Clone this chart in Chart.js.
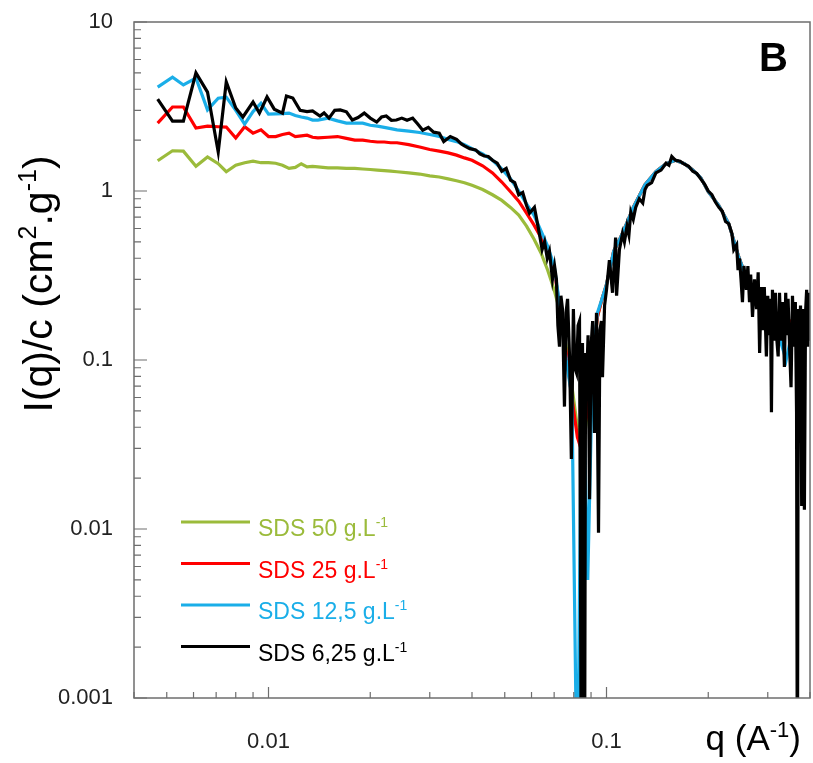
<!DOCTYPE html>
<html lang="en">

<head>
  <meta charset="UTF-8">
  <script src="https://cdn.jsdelivr.net/npm/chart.js"></script>
  <title>SDS scattering curves</title>
  <style>
    body { margin: 0; background: #fff; }
    #grafico { display: block; }
  </style>
</head>

<body>
  <canvas id="grafico" width="813" height="763"></canvas>

<script>
  // q values shared by the 50, 25 and 12,5 g/L curves
  const qA = [0.0047, 0.0052, 0.0056, 0.0061, 0.0066, 0.0071, 0.0075, 0.0080, 0.0085, 0.0090,
    0.0095, 0.0100, 0.0105, 0.0110, 0.0115, 0.0120, 0.0125, 0.0130, 0.0135, 0.014,
    0.015, 0.016, 0.017, 0.018, 0.019, 0.020, 0.021, 0.022, 0.023, 0.024,
    0.026, 0.028, 0.030, 0.032, 0.034, 0.036, 0.038, 0.040, 0.043, 0.046,
    0.049, 0.052, 0.055, 0.058, 0.061, 0.064, 0.067, 0.070, 0.073, 0.076,
    0.079, 0.082, 0.084, 0.086, 0.088, 0.091, 0.094, 0.097, 0.100, 0.105,
    0.110, 0.115, 0.120, 0.130, 0.140, 0.150, 0.160, 0.170, 0.180, 0.190,
    0.200, 0.215, 0.230, 0.245, 0.260, 0.280, 0.300, 0.320, 0.340, 0.360,
    0.380, 0.400];

  const sds50 = [1.51, 1.73, 1.72, 1.40, 1.59, 1.45, 1.30, 1.42, 1.47, 1.50,
    1.47, 1.47, 1.46, 1.42, 1.36, 1.38, 1.45, 1.39, 1.40, 1.39,
    1.37, 1.37, 1.36, 1.36, 1.35, 1.34, 1.33, 1.32, 1.31, 1.30,
    1.28, 1.26, 1.23, 1.21, 1.18, 1.15, 1.12, 1.08, 1.02, 0.95,
    0.88, 0.80, 0.72, 0.62, 0.52, 0.43, 0.34, 0.26, 0.19, 0.12,
    0.07, 0.04, 0.03, 0.035, 0.05, 0.10, 0.18, 0.23, 0.28, 0.44,
    0.53, 0.65, 0.80, 1.09, 1.30, 1.45, 1.52, 1.45, 1.33, 1.20,
    0.99, 0.82, 0.64, 0.42, 0.30, 0.25, 0.20, 0.18, 0.17, 0.17,
    0.17, 0.17];

  const sds25 = [2.52, 3.14, 3.14, 2.36, 2.42, 2.40, 2.39, 2.06, 2.40, 2.20,
    2.30, 2.10, 2.10, 2.16, 2.20, 2.10, 2.12, 2.14, 2.08, 2.06,
    2.08, 2.10, 2.05, 2.00, 2.00, 1.97, 1.95, 1.95, 1.93, 1.93,
    1.88, 1.82, 1.76, 1.72, 1.68, 1.63, 1.57, 1.52, 1.41, 1.28,
    1.13, 0.99, 0.87, 0.74, 0.63, 0.53, 0.44, 0.34, 0.20, 0.11,
    0.06, 0.035, 0.03, 0.04, 0.05, 0.10, 0.18, 0.23, 0.28, 0.44,
    0.53, 0.65, 0.80, 1.09, 1.30, 1.45, 1.52, 1.45, 1.33, 1.20,
    0.99, 0.82, 0.64, 0.42, 0.30, 0.25, 0.20, 0.18, 0.17, 0.17,
    0.17, 0.17];

  const sds125 = [4.12, 4.72, 4.24, 4.66, 3.02, 3.54, 3.59, 3.00, 2.49, 2.95,
    3.30, 2.85, 2.86, 2.87, 2.89, 2.80, 2.74, 2.70, 2.63, 2.63,
    2.70, 2.60, 2.52, 2.52, 2.52, 2.45, 2.42, 2.38, 2.34, 2.30,
    2.26, 2.22, 2.16, 2.10, 2.02, 1.96, 1.88, 1.78, 1.66, 1.52,
    1.35, 1.18, 1.00, 0.84, 0.72, 0.58, 0.47, 0.36, 0.20, 0.10,
    0.06, 0.0002, 0.03, 0.04, 0.005, 0.10, 0.19, 0.23, 0.28, 0.44,
    0.53, 0.65, 0.80, 1.09, 1.30, 1.45, 1.52, 1.45, 1.33, 1.20,
    0.99, 0.82, 0.64, 0.42, 0.30, 0.22, 0.19, 0.15, 0.10, 0.17,
    0.15, 0.18];

  // the 6,25 g/L curve is noisier, it has its own q values
  const qB = [0.0047, 0.0052, 0.0056, 0.0061, 0.0066, 0.0071, 0.0075, 0.0080, 0.0084, 0.0090,
    0.0094, 0.0099, 0.0104, 0.0110, 0.0113, 0.0118, 0.0124, 0.0130, 0.0135, 0.0142,
    0.0146, 0.0151, 0.0157, 0.0163, 0.0170, 0.0177, 0.0184, 0.0192, 0.0200, 0.0209,
    0.0216, 0.0223, 0.0231, 0.0239, 0.0248, 0.0257, 0.0267, 0.0276, 0.0286, 0.0297,
    0.0308, 0.0320, 0.0330, 0.0345, 0.0360, 0.0372, 0.0380, 0.0394, 0.0410, 0.0422,
    0.0435, 0.0447, 0.0460, 0.0475, 0.0490, 0.0505, 0.0520, 0.0535, 0.0550, 0.0565,
    0.0580, 0.0592, 0.0612, 0.0634, 0.0645, 0.0656, 0.0668, 0.0678, 0.0692, 0.0702,
    0.0711, 0.0718, 0.0726, 0.0733, 0.0741, 0.0751, 0.0759, 0.0767, 0.0778, 0.0787,
    0.0798, 0.0806, 0.0815, 0.0824, 0.0832, 0.0843, 0.0849, 0.0855, 0.0861, 0.0867,
    0.0873, 0.0882, 0.0891, 0.0900, 0.0910, 0.0921, 0.0934, 0.0947, 0.0956, 0.0966,
    0.0973, 0.0987, 0.1000, 0.1020, 0.1042, 0.1064, 0.1071, 0.1092, 0.1115, 0.1130,
    0.1150, 0.1165, 0.1180, 0.1200, 0.1220, 0.1250, 0.1280, 0.1300, 0.1320, 0.1360,
    0.1400, 0.1450, 0.1500, 0.1530, 0.1560, 0.1600, 0.1650, 0.1700, 0.1750, 0.1800,
    0.1850, 0.1900, 0.1950, 0.2000, 0.2050, 0.2100, 0.2150, 0.2200, 0.2250, 0.2300,
    0.2350, 0.2380, 0.2427, 0.2450, 0.2474, 0.2500, 0.2525, 0.2550, 0.2594, 0.2620,
    0.2649, 0.2670, 0.2704, 0.2740, 0.2780, 0.2810, 0.2838, 0.2870, 0.2897, 0.2930,
    0.2972, 0.3000, 0.3030, 0.3055, 0.3076, 0.3097, 0.3130, 0.3160, 0.3184, 0.3220,
    0.3250, 0.3285, 0.3320, 0.3360, 0.3390, 0.3410, 0.3445, 0.3480, 0.3515, 0.3550,
    0.3590, 0.3620, 0.3650, 0.3670, 0.3695, 0.3720, 0.3750, 0.3780, 0.3800, 0.3825,
    0.3850, 0.3880, 0.3910, 0.3940, 0.3970, 0.3990];

  const sds625 = [3.50, 2.59, 2.59, 5.00, 3.85, 1.70, 4.42, 3.10, 2.74, 3.36,
    2.89, 3.60, 3.05, 2.89, 3.65, 3.55, 3.00, 2.95, 2.98, 2.78,
    2.90, 2.70, 3.00, 3.02, 2.94, 2.63, 2.72, 2.89, 2.70, 2.56,
    2.74, 2.78, 2.62, 2.63, 2.70, 2.62, 2.70, 2.50, 2.29, 2.38,
    2.23, 2.20, 1.96, 2.10, 2.02, 1.90, 1.85, 1.78, 1.75, 1.66,
    1.61, 1.60, 1.52, 1.46, 1.31, 1.36, 1.16, 1.12, 0.95, 0.98,
    0.82, 0.74, 0.80, 0.55, 0.45, 0.50, 0.40, 0.44, 0.30, 0.36,
    0.30, 0.16, 0.12, 0.24, 0.20, 0.053, 0.19, 0.23, 0.10, 0.026,
    0.20, 0.09, 0.084, 0.16, 0.17, 0.0002, 0.126, 0.03, 0.0002, 0.11,
    0.073, 0.14, 0.015, 0.12, 0.17, 0.037, 0.19, 0.0095, 0.15, 0.17,
    0.079, 0.21, 0.26, 0.39, 0.25, 0.53, 0.24, 0.45, 0.56, 0.50,
    0.62, 0.55, 0.75, 0.68, 0.80, 0.90, 0.85, 1.02, 1.08, 1.12,
    1.28, 1.33, 1.46, 1.42, 1.60, 1.52, 1.50, 1.44, 1.40, 1.31,
    1.27, 1.18, 1.10, 1.00, 0.95, 0.86, 0.80, 0.76, 0.66, 0.64,
    0.56, 0.45, 0.48, 0.34, 0.40, 0.30, 0.22, 0.36, 0.26, 0.36,
    0.22, 0.32, 0.18, 0.30, 0.20, 0.33, 0.11, 0.27, 0.15, 0.27,
    0.105, 0.24, 0.14, 0.23, 0.049, 0.26, 0.13, 0.25, 0.14, 0.105,
    0.25, 0.13, 0.22, 0.091, 0.25, 0.14, 0.23, 0.12, 0.069, 0.24,
    0.12, 0.22, 0.049, 0.0002, 0.20, 0.12, 0.21, 0.0137, 0.20, 0.11,
    0.013, 0.19, 0.26, 0.12, 0.25, 0.13];

  const series = [
    { nome: 'SDS 6,25 g.L', q: qB, valores: sds625, cor: '#000000' },
    { nome: 'SDS 12,5 g.L', q: qA, valores: sds125, cor: '#1aaee8' },
    { nome: 'SDS 25 g.L', q: qA, valores: sds25, cor: '#ff0000' },
    { nome: 'SDS 50 g.L', q: qA, valores: sds50, cor: '#9bbb3b' }
  ];

  const legendOrder = ['SDS 50 g.L', 'SDS 25 g.L', 'SDS 12,5 g.L', 'SDS 6,25 g.L'];

  const xMajor = [0.01, 0.1];
  const xMajorLabels = ['0.01', '0.1'];
  const yMajor = [0.001, 0.01, 0.1, 1, 10];
  const yMajorLabels = ['0.001', '0.01', '0.1', '1', '10'];

  const fonte = '"Liberation Sans", Arial, sans-serif';

  function logTicks(min, max) {
    const out = [];
    for (let e = -4; e <= 2; e++) {
      for (let m = 1; m <= 9; m++) {
        const v = Number((m * Math.pow(10, e)).toPrecision(6));
        if (v >= min * 0.9999 && v <= max * 1.0001) out.push({ value: v });
      }
    }
    return out;
  }

  function majorIndex(list, v) {
    return list.findIndex(m => Math.abs(m - v) / m < 1e-6);
  }

  // text with superscripts: parts = [[text, isSup], ...]
  function richWidth(ctx, parts, size) {
    let w = 0;
    parts.forEach(([t, sup]) => {
      ctx.font = (sup ? Math.round(size * 0.62) : size) + 'px ' + fonte;
      w += ctx.measureText(t).width;
    });
    return w;
  }

  function drawRich(ctx, parts, x, y, size) {
    let cx = x;
    parts.forEach(([t, sup]) => {
      ctx.font = (sup ? Math.round(size * 0.62) : size) + 'px ' + fonte;
      ctx.fillText(t, cx, sup ? y - size * 0.38 : y);
      cx += ctx.measureText(t).width;
    });
  }

  // scales should not push the plot area around
  function noPadding(s) {
    s.paddingLeft = 0;
    s.paddingRight = 0;
    s.paddingTop = 0;
    s.paddingBottom = 0;
  }

  const extras = {
    id: 'extras',
    afterDraw(chart) {
      const ctx = chart.ctx;
      const a = chart.chartArea;
      const xs = chart.scales.x;
      const ys = chart.scales.y;
      ctx.save();

      // frame
      ctx.strokeStyle = '#6e6e6e';
      ctx.lineWidth = 1.5;
      ctx.strokeRect(a.left, a.top, a.right - a.left, a.bottom - a.top);

      // inner tick marks
      ctx.lineWidth = 1.2;
      ctx.beginPath();
      ys.ticks.forEach(t => {
        const py = ys.getPixelForValue(t.value);
        const len = majorIndex(yMajor, t.value) >= 0 ? 13 : 7;
        ctx.moveTo(a.left, py);
        ctx.lineTo(a.left + len, py);
      });
      xs.ticks.forEach(t => {
        const px = xs.getPixelForValue(t.value);
        const len = majorIndex(xMajor, t.value) >= 0 ? 11 : 6;
        ctx.moveTo(px, a.bottom);
        ctx.lineTo(px, a.bottom - len);
      });
      ctx.stroke();

      ctx.fillStyle = '#000';
      ctx.textBaseline = 'alphabetic';

      // y title
      const yTitle = [['I(q)/c (cm', false], ['2', true], ['.g', false], ['-1', true], [')', false]];
      ctx.save();
      ctx.translate(52, 284);
      ctx.rotate(-Math.PI / 2);
      const wy = richWidth(ctx, yTitle, 41);
      drawRich(ctx, yTitle, -wy / 2, 0, 41);
      ctx.restore();

      // x title
      const xTitle = [['q (A', false], ['-1', true], [')', false]];
      const wx = richWidth(ctx, xTitle, 35);
      drawRich(ctx, xTitle, 801 - wx, 750, 35);

      // panel letter
      ctx.font = 'bold 40px ' + fonte;
      ctx.fillText('B', 759, 71);

      // legend
      legendOrder.forEach((nome, i) => {
        const s = series.find(d => d.nome === nome);
        const ly = 522 + i * 41.5;
        ctx.strokeStyle = s.cor;
        ctx.lineWidth = 3;
        ctx.beginPath();
        ctx.moveTo(181, ly);
        ctx.lineTo(250, ly);
        ctx.stroke();
        ctx.fillStyle = s.cor;
        drawRich(ctx, [[nome, false], ['-1', true]], 258, ly + 14, 23);
      });

      ctx.restore();
    }
  };

  new Chart(document.getElementById('grafico'), {
    type: 'line',
    data: {
      datasets: series.map(s => ({
        label: s.nome,
        data: s.q.map((q, i) => ({ x: q, y: s.valores[i] })),
        borderColor: s.cor,
        borderWidth: 3.2,
        pointRadius: 0,
        tension: 0,
        fill: false
      }))
    },
    options: {
      responsive: false,
      animation: false,
      devicePixelRatio: 1,
      layout: { padding: { top: 22, right: 3, left: 0, bottom: 0 } },
      scales: {
        x: {
          type: 'logarithmic',
          min: 0.004,
          max: 0.4,
          grid: { display: false, drawTicks: false },
          border: { display: false },
          afterBuildTicks: s => { s.ticks = logTicks(0.004, 0.4); },
          afterFit: s => { s.height = 65; noPadding(s); },
          ticks: {
            autoSkip: false,
            maxRotation: 0,
            padding: 31,
            color: '#222',
            font: { family: fonte, size: 22 },
            callback: v => {
              const k = majorIndex(xMajor, v);
              return k >= 0 ? xMajorLabels[k] : '';
            }
          }
        },
        y: {
          type: 'logarithmic',
          min: 0.001,
          max: 10,
          grid: { display: false, drawTicks: false },
          border: { display: false },
          afterBuildTicks: s => { s.ticks = logTicks(0.001, 10); },
          afterFit: s => { s.width = 134; noPadding(s); },
          ticks: {
            autoSkip: false,
            padding: 21,
            color: '#222',
            font: { family: fonte, size: 22 },
            callback: v => {
              const k = majorIndex(yMajor, v);
              return k >= 0 ? yMajorLabels[k] : '';
            }
          }
        }
      },
      plugins: {
        legend: { display: false },
        tooltip: { enabled: false }
      }
    },
    plugins: [extras]
  });
</script>
</body>

</html>
